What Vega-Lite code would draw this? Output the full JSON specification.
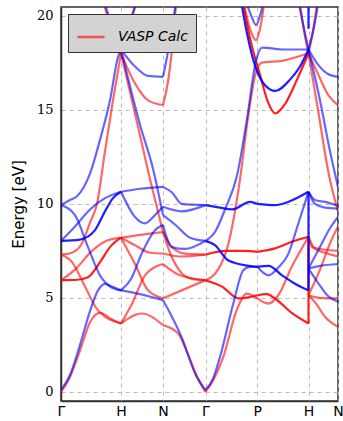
{
"$schema": "https://vega.github.io/schema/vega-lite/v6.json",
"width": 277, "height": 394,
"autosize": {"type": "none"},
"padding": {"left": 61, "top": 7, "right": 5, "bottom": 20},
"background": "white",
"config": {"view": {"stroke": "#333", "strokeWidth": 1.5}},
"layer": [
{
"data": {"values": [
{"b":"r1","s":"up","d":1,"k":61,"e":0.0},{"b":"r1","s":"up","d":1,"k":70,"e":0.8},{"b":"r1","s":"up","d":1,"k":80,"e":2.2},{"b":"r1","s":"up","d":1,"k":90,"e":3.7},{"b":"r1","s":"up","d":1,"k":100,"e":4.2},{"b":"r1","s":"up","d":1,"k":112,"e":3.85},{"b":"r1","s":"up","d":1,"k":121,"e":3.64},
{"b":"r2","s":"up","d":1,"k":61,"e":7.3},{"b":"r2","s":"up","d":1,"k":72,"e":6.9},{"b":"r2","s":"up","d":1,"k":85,"e":5.6},{"b":"r2","s":"up","d":1,"k":97,"e":4.4},{"b":"r2","s":"up","d":1,"k":105,"e":4.0},{"b":"r2","s":"up","d":1,"k":121,"e":3.64},
{"b":"r3","s":"up","d":2,"k":61,"e":5.94},{"b":"r3","s":"up","d":2,"k":75,"e":5.95},{"b":"r3","s":"up","d":2,"k":88,"e":6.1},{"b":"r3","s":"up","d":2,"k":100,"e":6.9},{"b":"r3","s":"up","d":2,"k":110,"e":7.7},{"b":"r3","s":"up","d":2,"k":121,"e":8.2},
{"b":"r4","s":"up","d":1,"k":61,"e":5.94},{"b":"r4","s":"up","d":1,"k":75,"e":6.5},{"b":"r4","s":"up","d":1,"k":92,"e":7.5},{"b":"r4","s":"up","d":1,"k":105,"e":8.0},{"b":"r4","s":"up","d":1,"k":121,"e":8.2},
{"b":"r5","s":"up","d":1,"k":61,"e":7.3},{"b":"r5","s":"up","d":1,"k":72,"e":7.4},{"b":"r5","s":"up","d":1,"k":82,"e":7.9},{"b":"r5","s":"up","d":1,"k":90,"e":9.0},{"b":"r5","s":"up","d":1,"k":97,"e":10.0},{"b":"r5","s":"up","d":1,"k":105,"e":12.8},{"b":"r5","s":"up","d":1,"k":113,"e":15.5},{"b":"r5","s":"up","d":1,"k":121,"e":18.0},
{"b":"r6","s":"up","d":1,"k":104,"e":20.6},{"b":"r6","s":"up","d":1,"k":112,"e":19.2},{"b":"r6","s":"up","d":1,"k":121,"e":18.0},{"b":"r6","s":"up","d":1,"k":128,"e":19.2},{"b":"r6","s":"up","d":1,"k":135,"e":20.6},
{"b":"r7","s":"up","d":1,"k":121,"e":18.0},{"b":"r7","s":"up","d":1,"k":135,"e":16.4},{"b":"r7","s":"up","d":1,"k":148,"e":15.5},{"b":"r7","s":"up","d":1,"k":163,"e":15.25},
{"b":"r8","s":"up","d":1,"k":121,"e":18.0},{"b":"r8","s":"up","d":1,"k":135,"e":14.8},{"b":"r8","s":"up","d":1,"k":150,"e":11.3},{"b":"r8","s":"up","d":1,"k":163,"e":8.5},
{"b":"r9","s":"up","d":1,"k":121,"e":8.2},{"b":"r9","s":"up","d":1,"k":140,"e":8.35},{"b":"r9","s":"up","d":1,"k":163,"e":8.5},
{"b":"r10","s":"up","d":1,"k":121,"e":8.2},{"b":"r10","s":"up","d":1,"k":135,"e":6.8},{"b":"r10","s":"up","d":1,"k":148,"e":5.4},{"b":"r10","s":"up","d":1,"k":163,"e":4.98},
{"b":"r11","s":"up","d":1,"k":121,"e":8.2},{"b":"r11","s":"up","d":1,"k":135,"e":7.8},{"b":"r11","s":"up","d":1,"k":150,"e":7.4},{"b":"r11","s":"up","d":1,"k":163,"e":7.36},
{"b":"r12","s":"up","d":1,"k":121,"e":3.64},{"b":"r12","s":"up","d":1,"k":141.7,"e":4.17},{"b":"r12","s":"up","d":1,"k":163,"e":3.55},
{"b":"r13","s":"up","d":1,"k":121,"e":3.64},{"b":"r13","s":"up","d":1,"k":133,"e":4.8},{"b":"r13","s":"up","d":1,"k":145,"e":6.2},{"b":"r13","s":"up","d":1,"k":163,"e":6.8},
{"b":"r14","s":"up","d":1,"k":163,"e":15.25},{"b":"r14","s":"up","d":1,"k":168,"e":16.5},{"b":"r14","s":"up","d":1,"k":172,"e":18.2},{"b":"r14","s":"up","d":1,"k":176,"e":20.6},
{"b":"r15","s":"up","d":1,"k":163,"e":8.5},{"b":"r15","s":"up","d":1,"k":172,"e":7.7},{"b":"r15","s":"up","d":1,"k":185,"e":7.35},{"b":"r15","s":"up","d":1,"k":205.5,"e":7.3},
{"b":"r16","s":"up","d":1,"k":163,"e":8.5},{"b":"r16","s":"up","d":1,"k":170,"e":7.4},{"b":"r16","s":"up","d":1,"k":182,"e":6.3},{"b":"r16","s":"up","d":1,"k":193,"e":6.0},{"b":"r16","s":"up","d":1,"k":205.5,"e":5.94},
{"b":"r17","s":"up","d":1,"k":163,"e":7.36},{"b":"r17","s":"up","d":1,"k":180,"e":7.2},{"b":"r17","s":"up","d":1,"k":205.5,"e":7.3},
{"b":"r18","s":"up","d":1,"k":163,"e":4.98},{"b":"r18","s":"up","d":1,"k":181.7,"e":5.4},{"b":"r18","s":"up","d":1,"k":205.5,"e":5.94},
{"b":"r19","s":"up","d":1,"k":163,"e":6.8},{"b":"r19","s":"up","d":1,"k":180,"e":6.2},{"b":"r19","s":"up","d":1,"k":205.5,"e":5.94},
{"b":"r20","s":"up","d":1,"k":163,"e":3.55},{"b":"r20","s":"up","d":1,"k":178.3,"e":3.1},{"b":"r20","s":"up","d":1,"k":188,"e":2.0},{"b":"r20","s":"up","d":1,"k":198,"e":0.7},{"b":"r20","s":"up","d":1,"k":205.5,"e":0.0},
{"b":"r21","s":"up","d":1,"k":205.5,"e":0.0},{"b":"r21","s":"up","d":1,"k":214,"e":0.7},{"b":"r21","s":"up","d":1,"k":223.3,"e":1.86},{"b":"r21","s":"up","d":1,"k":236.7,"e":4.35},{"b":"r21","s":"up","d":1,"k":246.7,"e":5.23},{"b":"r21","s":"up","d":1,"k":257.3,"e":4.97},
{"b":"r22","s":"up","d":2,"k":205.5,"e":5.94},{"b":"r22","s":"up","d":2,"k":222,"e":5.6},{"b":"r22","s":"up","d":2,"k":238.7,"e":4.97},{"b":"r22","s":"up","d":2,"k":257.3,"e":5.14},
{"b":"r23","s":"up","d":1,"k":205.5,"e":5.94},{"b":"r23","s":"up","d":1,"k":218,"e":6.5},{"b":"r23","s":"up","d":1,"k":228,"e":7.8},{"b":"r23","s":"up","d":1,"k":240,"e":11.3},{"b":"r23","s":"up","d":1,"k":248,"e":14.6},{"b":"r23","s":"up","d":1,"k":256,"e":17.0},{"b":"r23","s":"up","d":1,"k":262,"e":17.5},{"b":"r23","s":"up","d":1,"k":282,"e":17.6},{"b":"r23","s":"up","d":1,"k":308.5,"e":18.0},
{"b":"r25","s":"up","d":2,"k":205.5,"e":7.3},{"b":"r25","s":"up","d":2,"k":225,"e":7.5},{"b":"r25","s":"up","d":2,"k":245,"e":7.5},{"b":"r25","s":"up","d":2,"k":257.3,"e":7.45},
{"b":"r26","s":"up","d":2,"k":240,"e":21.5},{"b":"r26","s":"up","d":2,"k":243.7,"e":20.5},{"b":"r26","s":"up","d":2,"k":250,"e":18.8},{"b":"r26","s":"up","d":2,"k":260.3,"e":16.8},{"b":"r26","s":"up","d":2,"k":268,"e":15.4},{"b":"r26","s":"up","d":2,"k":275.3,"e":14.8},{"b":"r26","s":"up","d":2,"k":285,"e":15.3},{"b":"r26","s":"up","d":2,"k":297,"e":16.6},{"b":"r26","s":"up","d":2,"k":308.5,"e":18.0},
{"b":"rP","s":"up","d":1,"k":244,"e":20.6},{"b":"rP","s":"up","d":1,"k":250,"e":19.3},{"b":"rP","s":"up","d":1,"k":256,"e":18.7},{"b":"rP","s":"up","d":1,"k":260,"e":19.3},{"b":"rP","s":"up","d":1,"k":264,"e":20.6},
{"b":"r27","s":"up","d":2,"k":257.3,"e":7.45},{"b":"r27","s":"up","d":2,"k":275,"e":7.63},{"b":"r27","s":"up","d":2,"k":291.7,"e":7.98},{"b":"r27","s":"up","d":2,"k":308.5,"e":8.25},
{"b":"r28","s":"up","d":2,"k":257.3,"e":5.14},{"b":"r28","s":"up","d":2,"k":267,"e":5.2},{"b":"r28","s":"up","d":2,"k":275,"e":4.97},{"b":"r28","s":"up","d":2,"k":291.7,"e":4.2},{"b":"r28","s":"up","d":2,"k":308.5,"e":3.64},
{"b":"r29","s":"up","d":1,"k":257.3,"e":4.97},{"b":"r29","s":"up","d":1,"k":268.3,"e":4.7},{"b":"r29","s":"up","d":1,"k":278.3,"e":5.14},{"b":"r29","s":"up","d":1,"k":291.7,"e":6.65},{"b":"r29","s":"up","d":1,"k":308.5,"e":8.25},
{"b":"rH2","s":"up","d":1,"k":300,"e":20.6},{"b":"rH2","s":"up","d":1,"k":304,"e":19.2},{"b":"rH2","s":"up","d":1,"k":308.5,"e":18.0},
{"b":"rV","s":"up","d":2,"k":308.5,"e":3.64},{"b":"rV","s":"up","d":2,"k":308.5,"e":8.25},
{"b":"r30","s":"up","d":1,"k":308.5,"e":8.25},{"b":"r30","s":"up","d":1,"k":312,"e":7.7},{"b":"r30","s":"up","d":1,"k":320,"e":7.6},{"b":"r30","s":"up","d":1,"k":338,"e":7.5},
{"b":"r31","s":"up","d":1,"k":308.5,"e":8.25},{"b":"r31","s":"up","d":1,"k":315,"e":7.6},{"b":"r31","s":"up","d":1,"k":325,"e":7.4},{"b":"r31","s":"up","d":1,"k":338,"e":7.2},
{"b":"r32","s":"up","d":1,"k":308.5,"e":5.14},{"b":"r32","s":"up","d":1,"k":320,"e":5.0},{"b":"r32","s":"up","d":1,"k":338,"e":4.97},
{"b":"r33","s":"up","d":1,"k":308.5,"e":5.14},{"b":"r33","s":"up","d":1,"k":316,"e":4.7},{"b":"r33","s":"up","d":1,"k":325,"e":4.0},{"b":"r33","s":"up","d":1,"k":338,"e":3.46},
{"b":"r34","s":"up","d":1,"k":308.5,"e":5.14},{"b":"r34","s":"up","d":1,"k":320,"e":6.5},{"b":"r34","s":"up","d":1,"k":330,"e":7.9},{"b":"r34","s":"up","d":1,"k":338,"e":8.8},
{"b":"r35","s":"up","d":1,"k":308.5,"e":18.0},{"b":"r35","s":"up","d":1,"k":318,"e":15.0},{"b":"r35","s":"up","d":1,"k":328.7,"e":11.6},{"b":"r35","s":"up","d":1,"k":338,"e":9.6},
{"b":"r36","s":"up","d":1,"k":308.5,"e":18.0},{"b":"r36","s":"up","d":1,"k":318,"e":16.9},{"b":"r36","s":"up","d":1,"k":328,"e":15.8},{"b":"r36","s":"up","d":1,"k":338,"e":15.25},
{"b":"r37","s":"up","d":1,"k":308.5,"e":18.0},{"b":"r37","s":"up","d":1,"k":313,"e":19.2},{"b":"r37","s":"up","d":1,"k":317,"e":20.6},
{"b":"b1","s":"down","d":1,"k":61,"e":0.1},{"b":"b1","s":"down","d":1,"k":70,"e":0.9},{"b":"b1","s":"down","d":1,"k":80,"e":2.5},{"b":"b1","s":"down","d":1,"k":90,"e":4.3},{"b":"b1","s":"down","d":1,"k":98,"e":5.4},{"b":"b1","s":"down","d":1,"k":105,"e":5.75},{"b":"b1","s":"down","d":1,"k":112,"e":5.6},{"b":"b1","s":"down","d":1,"k":121,"e":5.4},
{"b":"b2","s":"down","d":1,"k":61,"e":9.93},{"b":"b2","s":"down","d":1,"k":75,"e":9.4},{"b":"b2","s":"down","d":1,"k":88,"e":7.7},{"b":"b2","s":"down","d":1,"k":101,"e":6.1},{"b":"b2","s":"down","d":1,"k":110,"e":5.6},{"b":"b2","s":"down","d":1,"k":121,"e":5.4},
{"b":"b3","s":"down","d":2,"k":61,"e":8.03},{"b":"b3","s":"down","d":2,"k":80,"e":8.1},{"b":"b3","s":"down","d":2,"k":95,"e":8.6},{"b":"b3","s":"down","d":2,"k":105,"e":9.6},{"b":"b3","s":"down","d":2,"k":113,"e":10.3},{"b":"b3","s":"down","d":2,"k":121,"e":10.64},
{"b":"b4","s":"down","d":1,"k":61,"e":8.03},{"b":"b4","s":"down","d":1,"k":75,"e":8.8},{"b":"b4","s":"down","d":1,"k":90,"e":9.7},{"b":"b4","s":"down","d":1,"k":105,"e":10.3},{"b":"b4","s":"down","d":1,"k":121,"e":10.64},
{"b":"b5","s":"down","d":1,"k":61,"e":9.93},{"b":"b5","s":"down","d":1,"k":70,"e":10.2},{"b":"b5","s":"down","d":1,"k":77,"e":10.4},{"b":"b5","s":"down","d":1,"k":90,"e":11.6},{"b":"b5","s":"down","d":1,"k":100,"e":13.4},{"b":"b5","s":"down","d":1,"k":110,"e":15.5},{"b":"b5","s":"down","d":1,"k":118,"e":17.8},{"b":"b5","s":"down","d":1,"k":121,"e":18.2},
{"b":"b6","s":"down","d":1,"k":105,"e":20.6},{"b":"b6","s":"down","d":1,"k":113,"e":19.3},{"b":"b6","s":"down","d":1,"k":121,"e":18.2},{"b":"b6","s":"down","d":1,"k":128,"e":19.3},{"b":"b6","s":"down","d":1,"k":136,"e":20.6},
{"b":"b7","s":"down","d":1,"k":121,"e":18.2},{"b":"b7","s":"down","d":1,"k":135,"e":17.3},{"b":"b7","s":"down","d":1,"k":148,"e":16.8},{"b":"b7","s":"down","d":1,"k":163,"e":16.75},
{"b":"b8","s":"down","d":1,"k":121,"e":18.2},{"b":"b8","s":"down","d":1,"k":140,"e":14.2},{"b":"b8","s":"down","d":1,"k":153.3,"e":11.8},{"b":"b8","s":"down","d":1,"k":163,"e":9.4},
{"b":"b9","s":"down","d":1,"k":121,"e":10.64},{"b":"b9","s":"down","d":1,"k":140,"e":10.8},{"b":"b9","s":"down","d":1,"k":163,"e":10.9},
{"b":"b10","s":"down","d":1,"k":121,"e":10.64},{"b":"b10","s":"down","d":1,"k":135,"e":9.3},{"b":"b10","s":"down","d":1,"k":145,"e":8.96},{"b":"b10","s":"down","d":1,"k":155,"e":9.4},{"b":"b10","s":"down","d":1,"k":163,"e":9.84},
{"b":"b11","s":"down","d":1,"k":121,"e":5.4},{"b":"b11","s":"down","d":1,"k":131,"e":6.0},{"b":"b11","s":"down","d":1,"k":141.7,"e":7.36},{"b":"b11","s":"down","d":1,"k":155,"e":8.6},{"b":"b11","s":"down","d":1,"k":163,"e":8.87},
{"b":"b12","s":"down","d":1,"k":121,"e":5.4},{"b":"b12","s":"down","d":1,"k":140,"e":5.2},{"b":"b12","s":"down","d":1,"k":163,"e":4.88},
{"b":"b14","s":"down","d":1,"k":163,"e":16.75},{"b":"b14","s":"down","d":1,"k":167,"e":17.8},{"b":"b14","s":"down","d":1,"k":172,"e":19.5},{"b":"b14","s":"down","d":1,"k":176,"e":20.6},
{"b":"b15","s":"down","d":1,"k":163,"e":10.9},{"b":"b15","s":"down","d":1,"k":172,"e":10.6},{"b":"b15","s":"down","d":1,"k":181.7,"e":10.0},{"b":"b15","s":"down","d":1,"k":205.5,"e":9.93},
{"b":"b16","s":"down","d":1,"k":163,"e":9.84},{"b":"b16","s":"down","d":1,"k":181.7,"e":9.6},{"b":"b16","s":"down","d":1,"k":205.5,"e":9.93},
{"b":"b17","s":"down","d":1,"k":163,"e":8.87},{"b":"b17","s":"down","d":1,"k":171.7,"e":7.7},{"b":"b17","s":"down","d":1,"k":185,"e":7.6},{"b":"b17","s":"down","d":1,"k":205.5,"e":8.03},
{"b":"b18","s":"down","d":1,"k":163,"e":9.4},{"b":"b18","s":"down","d":1,"k":175,"e":8.9},{"b":"b18","s":"down","d":1,"k":190,"e":8.2},{"b":"b18","s":"down","d":1,"k":205.5,"e":8.03},
{"b":"b19","s":"down","d":1,"k":163,"e":4.88},{"b":"b19","s":"down","d":1,"k":170,"e":4.2},{"b":"b19","s":"down","d":1,"k":181.7,"e":2.9},{"b":"b19","s":"down","d":1,"k":195,"e":1.0},{"b":"b19","s":"down","d":1,"k":205.5,"e":0.1},
{"b":"b21","s":"down","d":1,"k":205.5,"e":0.1},{"b":"b21","s":"down","d":1,"k":213,"e":0.7},{"b":"b21","s":"down","d":1,"k":220,"e":1.86},{"b":"b21","s":"down","d":1,"k":233.3,"e":4.7},{"b":"b21","s":"down","d":1,"k":243.3,"e":6.47},{"b":"b21","s":"down","d":1,"k":250,"e":6.65},{"b":"b21","s":"down","d":1,"k":257.3,"e":6.65},
{"b":"b22","s":"down","d":2,"k":205.5,"e":8.03},{"b":"b22","s":"down","d":2,"k":215,"e":7.8},{"b":"b22","s":"down","d":2,"k":228,"e":7.0},{"b":"b22","s":"down","d":2,"k":249,"e":6.7},{"b":"b22","s":"down","d":2,"k":257.3,"e":6.65},
{"b":"b23","s":"down","d":1,"k":205.5,"e":8.03},{"b":"b23","s":"down","d":1,"k":215,"e":8.5},{"b":"b23","s":"down","d":1,"k":225,"e":9.7},{"b":"b23","s":"down","d":1,"k":237,"e":11.5},{"b":"b23","s":"down","d":1,"k":247,"e":14.5},{"b":"b23","s":"down","d":1,"k":256,"e":17.6},{"b":"b23","s":"down","d":1,"k":262,"e":18.3},{"b":"b23","s":"down","d":1,"k":285,"e":18.2},{"b":"b23","s":"down","d":1,"k":308.5,"e":18.2},
{"b":"b24","s":"down","d":2,"k":205.5,"e":9.93},{"b":"b24","s":"down","d":2,"k":220,"e":9.8},{"b":"b24","s":"down","d":2,"k":232,"e":9.7},{"b":"b24","s":"down","d":2,"k":250,"e":10.1},{"b":"b24","s":"down","d":2,"k":257.3,"e":10.0},
{"b":"b26","s":"down","d":2,"k":239,"e":21.5},{"b":"b26","s":"down","d":2,"k":242,"e":20.5},{"b":"b26","s":"down","d":2,"k":255.3,"e":17.3},{"b":"b26","s":"down","d":2,"k":265,"e":16.3},{"b":"b26","s":"down","d":2,"k":275.3,"e":16.0},{"b":"b26","s":"down","d":2,"k":290,"e":16.6},{"b":"b26","s":"down","d":2,"k":300,"e":17.3},{"b":"b26","s":"down","d":2,"k":308.5,"e":18.2},
{"b":"bP","s":"down","d":1,"k":247,"e":20.6},{"b":"bP","s":"down","d":1,"k":252,"e":19.9},{"b":"bP","s":"down","d":1,"k":256,"e":19.5},{"b":"bP","s":"down","d":1,"k":260,"e":20.0},{"b":"bP","s":"down","d":1,"k":263,"e":20.6},
{"b":"b27","s":"down","d":2,"k":257.3,"e":10.0},{"b":"b27","s":"down","d":2,"k":275,"e":9.93},{"b":"b27","s":"down","d":2,"k":288,"e":10.1},{"b":"b27","s":"down","d":2,"k":308.5,"e":10.64},
{"b":"b28","s":"down","d":2,"k":257.3,"e":6.65},{"b":"b28","s":"down","d":2,"k":268.7,"e":6.7},{"b":"b28","s":"down","d":2,"k":282,"e":6.2},{"b":"b28","s":"down","d":2,"k":295,"e":5.75},{"b":"b28","s":"down","d":2,"k":308.5,"e":5.4},
{"b":"b29","s":"down","d":1,"k":257.3,"e":6.65},{"b":"b29","s":"down","d":1,"k":268.3,"e":6.2},{"b":"b29","s":"down","d":1,"k":278,"e":6.6},{"b":"b29","s":"down","d":1,"k":288,"e":7.3},{"b":"b29","s":"down","d":1,"k":298,"e":8.9},{"b":"b29","s":"down","d":1,"k":308.5,"e":10.64},
{"b":"bH2","s":"down","d":1,"k":299,"e":20.6},{"b":"bH2","s":"down","d":1,"k":304,"e":19.3},{"b":"bH2","s":"down","d":1,"k":308.5,"e":18.2},
{"b":"bV","s":"down","d":2,"k":308.5,"e":5.4},{"b":"bV","s":"down","d":2,"k":308.5,"e":10.64},
{"b":"bV2","s":"down","d":2,"k":308.5,"e":19.3},{"b":"bV2","s":"down","d":2,"k":308.5,"e":20.6},
{"b":"b30","s":"down","d":1,"k":308.5,"e":10.64},{"b":"b30","s":"down","d":1,"k":315,"e":10.2},{"b":"b30","s":"down","d":1,"k":325,"e":10.1},{"b":"b30","s":"down","d":1,"k":338,"e":9.9},
{"b":"b31","s":"down","d":1,"k":308.5,"e":10.64},{"b":"b31","s":"down","d":1,"k":315,"e":10.0},{"b":"b31","s":"down","d":1,"k":325,"e":9.8},{"b":"b31","s":"down","d":1,"k":338,"e":9.75},
{"b":"b32","s":"down","d":1,"k":308.5,"e":6.56},{"b":"b32","s":"down","d":1,"k":320,"e":6.7},{"b":"b32","s":"down","d":1,"k":338,"e":6.8},
{"b":"b33","s":"down","d":1,"k":308.5,"e":6.56},{"b":"b33","s":"down","d":1,"k":318,"e":5.8},{"b":"b33","s":"down","d":1,"k":328,"e":5.1},{"b":"b33","s":"down","d":1,"k":338,"e":4.8},
{"b":"b34","s":"down","d":1,"k":308.5,"e":6.56},{"b":"b34","s":"down","d":1,"k":318,"e":7.5},{"b":"b34","s":"down","d":1,"k":330,"e":8.7},{"b":"b34","s":"down","d":1,"k":338,"e":9.3},
{"b":"b35","s":"down","d":1,"k":308.5,"e":18.2},{"b":"b35","s":"down","d":1,"k":320,"e":15.5},{"b":"b35","s":"down","d":1,"k":330,"e":12.8},{"b":"b35","s":"down","d":1,"k":338,"e":10.9},
{"b":"b36","s":"down","d":1,"k":308.5,"e":18.2},{"b":"b36","s":"down","d":1,"k":318,"e":17.4},{"b":"b36","s":"down","d":1,"k":328,"e":16.9},{"b":"b36","s":"down","d":1,"k":338,"e":16.75},
{"b":"b37","s":"down","d":1,"k":308.5,"e":18.2},{"b":"b37","s":"down","d":1,"k":314,"e":19.4},{"b":"b37","s":"down","d":1,"k":318,"e":20.6}
]},
"mark": {"type": "line", "interpolate": "monotone", "strokeWidth": 2.2, "clip": true},
"encoding": {
"x": {"field": "k", "type": "quantitative", "scale": {"domain": [61, 338], "nice": false, "zero": false},
 "axis": {"values": [61, 121, 163, 205.5, 257.3, 308.5, 338], "labelExpr": "datum.value == 61 || datum.value == 205.5 ? 'Γ' : (datum.value == 121 || datum.value == 308.5 ? 'H' : (datum.value == 163 || datum.value == 338 ? 'N' : 'P'))",
 "title": null, "grid": true, "gridDash": [4, 4], "gridColor": "#bbbbbb", "gridWidth": 1, "ticks": false, "domainColor": "#333", "domainWidth": 1.5,
 "labelFont": "DejaVu Sans", "labelFontSize": 14, "labelColor": "black", "labelPadding": 3, "labelBound": false, "labelFlush": false, "labelOverlap": false}},
"y": {"field": "e", "type": "quantitative", "scale": {"domain": [-0.48, 20.46], "nice": false, "zero": false},
 "axis": {"values": [0, 5, 10, 15, 20], "title": "Energy [eV]", "titleFont": "DejaVu Sans", "titleFontSize": 15, "titleFontWeight": "normal", "titleColor": "black", "titlePadding": 10,
 "grid": true, "gridDash": [4, 4], "gridColor": "#bbbbbb", "gridWidth": 1, "ticks": false, "domainColor": "#333", "domainWidth": 1.5,
 "labelFont": "DejaVu Serif", "labelFontSize": 13, "labelColor": "black", "labelPadding": 8}},
"detail": {"field": "b"},
"color": {"field": "s", "type": "nominal", "scale": {"domain": ["up", "down"], "range": ["#ff0000", "#0000ff"]},
 "legend": {"values": ["up"], "labelExpr": "'VASP Calc'", "title": null, "orient": "top-left", "offset": 7, "fillColor": "#d3d3d3", "strokeColor": "#333", "padding": 8,
 "symbolType": "stroke", "symbolSize": 729, "symbolStrokeWidth": 2.5, "symbolOpacity": 0.6, "labelFont": "DejaVu Sans", "labelFontStyle": "italic", "labelFontSize": 14, "labelColor": "black", "labelOffset": 12}},
"opacity": {"field": "d", "type": "quantitative", "scale": {"domain": [1, 2], "range": [0.6, 0.88]}, "legend": null}
}
},
{"mark": {"type": "rule", "color": "black", "strokeDash": [5, 3], "strokeWidth": 2}, "encoding": {"y": {"datum": 8.18}}},
{"mark": {"type": "rect", "color": "black"}, "encoding": {"x": {"datum": 306}, "x2": {"datum": 332.7}, "y": {"datum": 1.1}, "y2": {"datum": 0.09}}},
{"mark": {"type": "text", "color": "white", "fontSize": 15, "font": "DejaVu Sans"}, "encoding": {"x": {"datum": 319.4}, "y": {"datum": 0.6}, "text": {"value": "Fe"}}}
]
}
